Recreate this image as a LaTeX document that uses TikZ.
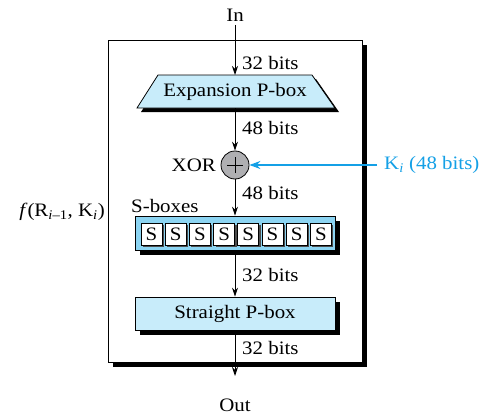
\documentclass[tikz,border=0pt]{standalone}
\usepackage{fontspec}
\setmainfont{Liberation Serif}
\usepackage{graphicx}
\usetikzlibrary{arrows.meta}
\definecolor{lblue}{RGB}{200,236,250}
\definecolor{mblue}{RGB}{140,212,242}
\definecolor{kblue}{RGB}{20,160,230}
\definecolor{xgray}{RGB}{175,175,178}
\newcommand{\sx}[1]{\scalebox{1.1}[1]{#1}}
\begin{document}
\begin{tikzpicture}[x=1pt,y=-1pt,
  txt/.style={font=\fontsize{19}{21}\selectfont, inner sep=0pt},
  arr/.style={line width=0.9pt,-{Stealth[length=9pt,width=6pt]}},
  shad/.style={fill=black},
  pbox/.style={draw=black,line width=0.8pt,fill=lblue},
  sbox/.style={draw=black,line width=0.8pt,fill=white,minimum width=21pt,minimum height=22pt,inner sep=0pt,font=\fontsize{19}{21}\selectfont}
]
\useasboundingbox (0,0) rectangle (479,420);
% outer frame
\fill[shad] (113,45) rectangle (367,367);
\draw[line width=0.9pt,fill=white] (108,40) rectangle (362,362);
% expansion P-box
\fill[shad] (162,79) -- (316,79) -- (339,112) -- (141,112) -- cycle;
\draw[pbox] (158,75) -- (312,75) -- (335,108) -- (137,108) -- cycle;
\coordinate (exptop) at (235,75);
\coordinate (expbot) at (235,108);
\node[txt] (exptxt) at (235,92) {\sx{Expansion P-box}};
% XOR
\node[circle,draw=black,line width=0.8pt,fill=xgray,minimum size=28pt,inner sep=0pt] (xor) at (235,165) {};
\draw[line width=0.8pt] ([xshift=-8pt]xor.center) -- ([xshift=8pt]xor.center)
  ([yshift=-8pt]xor.center) -- ([yshift=8pt]xor.center);
\node[txt,anchor=east] (xorl) at (216,165) {\sx{XOR}};
% S-boxes
\fill[shad] (140,221) rectangle (340,255);
\node[draw=black,line width=0.8pt,fill=mblue,minimum width=200pt,minimum height=34pt,inner sep=0pt] (sb) at (235,233) {};
\foreach \i in {0,...,7}{
  \fill[black!70] ({152.5+24.2*\i},235) ++(-9.5,-10) rectangle ++(21,22);
  \node[sbox] (s\i) at ({151.5+24.2*\i},234) {\sx{S}};
}
\node[txt,anchor=west] (sbl) at (131,206) {\sx{S-boxes}};
% straight P-box
\fill[shad] (140,302) rectangle (340,335);
\node[pbox,minimum width=200pt,minimum height=33pt,inner sep=0pt,txt] (sp) at (235,313.5) {\sx{Straight P-box}};
% in/out
\node[txt] (in) at (235,15) {\sx{In}};
\node[txt] (out) at (235,405) {\sx{Out}};
\coordinate (instart) at (235,25);
\coordinate (outend) at (235,376);
% arrows
\draw[arr] (instart) -- (exptop);
\draw[arr] (expbot) -- (xor.north);
\draw[arr] (xor.south) -- (sb.north);
\draw[arr] (sb.south) -- (sp.north);
\draw[arr] (sp.south) -- (outend);
% bit labels
\node[txt,anchor=west] at (242,63) {\sx{32 bits}};
\node[txt,anchor=west] at (242,128) {\sx{48 bits}};
\node[txt,anchor=west] at (242,193) {\sx{48 bits}};
\node[txt,anchor=west] at (242,275) {\sx{32 bits}};
\node[txt,anchor=west] at (242,348) {\sx{32 bits}};
% key
\node[txt,anchor=west,text=kblue] (key) at (384,165) {\sx{K\textsubscript{\textit{i}} (48 bits)}};
\coordinate (keystart) at (377,165);
\draw[line width=1.4pt,draw=kblue,-{Stealth[length=11pt,width=8pt]}] (keystart) -- (xor.east);
% f label
\node[txt,anchor=east] (fl) at (105,212) {\sx{\textit{f}(R\textsubscript{\textit{i}–1}, K\textsubscript{\textit{i}})}};
\end{tikzpicture}
\end{document}
